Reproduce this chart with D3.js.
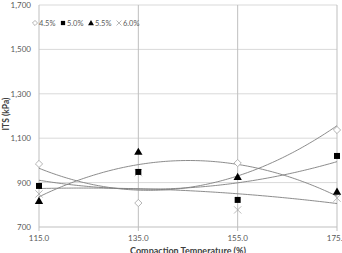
<!DOCTYPE html>
<html>
<head>
<meta charset="utf-8">
<script src="https://cdn.jsdelivr.net/npm/d3@7"></script>
<style>
  body { margin: 0; background: #fff; }
  svg { display: block; font-family: Lato, "Open Sans", sans-serif; }
</style>
</head>
<body>
<div id="chart"></div>
<script>
// compaction temperature categories and ITS values per bitumen content
const temps = [115, 135, 155, 175];
const seriesNames = ["4.5%", "5.0%", "5.5%", "6.0%"];
const its45 = [984, 808, 988, 1137];
const its50 = [885, 948, 822, 1020];
const its55 = [817, 1038, 925, 858];
const its60 = [849, 945, 777, 830];
const yTicks = [700, 900, 1100, 1300, 1500, 1700];

const width = 342, height = 253;
const margin = {top: 5, right: 5, bottom: 26, left: 39};

const series = [
  {name: seriesNames[0], values: its45, symbol: "diamond"},
  {name: seriesNames[1], values: its50, symbol: "square"},
  {name: seriesNames[2], values: its55, symbol: "triangle"},
  {name: seriesNames[3], values: its60, symbol: "x"}
];

const svg = d3.select("#chart").append("svg")
  .attr("width", width)
  .attr("height", height);

const x = d3.scaleLinear().domain([115, 175]).range([margin.left, width - margin.right]);
const y = d3.scaleLinear().domain([700, 1700]).range([height - margin.bottom, margin.top]);

// horizontal gridlines
svg.append("g")
  .selectAll("line")
  .data(yTicks.slice(1))
  .join("line")
  .attr("x1", x(115)).attr("x2", x(175))
  .attr("y1", d => y(d)).attr("y2", d => y(d))
  .attr("stroke", "#d9d9d9")
  .attr("stroke-width", 1);

// vertical gridlines (incl. y axis)
svg.append("g")
  .selectAll("line")
  .data(temps)
  .join("line")
  .attr("x1", d => x(d)).attr("x2", d => x(d))
  .attr("y1", y(1700)).attr("y2", y(700) + 4)
  .attr("stroke", "#bfbfbf")
  .attr("stroke-width", 1);

// x axis line
svg.append("line")
  .attr("x1", x(115)).attr("x2", x(175))
  .attr("y1", y(700)).attr("y2", y(700))
  .attr("stroke", "#bfbfbf");

// y tick labels
svg.append("g")
  .selectAll("text")
  .data(yTicks)
  .join("text")
  .attr("x", margin.left - 8)
  .attr("y", d => y(d) + 3)
  .attr("text-anchor", "end")
  .attr("font-size", 8)
  .attr("fill", "#595959")
  .text(d => d3.format(",")(d));

// x tick labels
svg.append("g")
  .selectAll("text")
  .data(temps)
  .join("text")
  .attr("x", d => x(d))
  .attr("y", y(700) + 14)
  .attr("text-anchor", "middle")
  .attr("font-size", 8)
  .attr("fill", "#595959")
  .text(d => d3.format(".1f")(d));

// axis titles
svg.append("text")
  .attr("x", 188)
  .attr("y", 254)
  .attr("text-anchor", "middle")
  .attr("font-size", 9)
  .attr("font-weight", "bold")
  .attr("fill", "#404040")
  .text("Compaction Temperature (%)");

svg.append("text")
  .attr("transform", "translate(9,114) rotate(-90)")
  .attr("text-anchor", "middle")
  .attr("font-size", 8.5)
  .attr("font-weight", "bold")
  .attr("fill", "#404040")
  .text("ITS (kPa)");

// least squares quadratic trend
function quadFit(xs, ys) {
  const m = d3.mean(xs);
  const t = xs.map(v => (v - m) / 10);
  let S = [0, 0, 0, 0, 0], T = [0, 0, 0];
  t.forEach((tv, i) => {
    for (let k = 0; k < 5; k++) S[k] += Math.pow(tv, k);
    for (let k = 0; k < 3; k++) T[k] += Math.pow(tv, k) * ys[i];
  });
  const A = [[S[0], S[1], S[2]], [S[1], S[2], S[3]], [S[2], S[3], S[4]]];
  const det = M => M[0][0] * (M[1][1] * M[2][2] - M[1][2] * M[2][1])
    - M[0][1] * (M[1][0] * M[2][2] - M[1][2] * M[2][0])
    + M[0][2] * (M[1][0] * M[2][1] - M[1][1] * M[2][0]);
  const D = det(A);
  const coef = [0, 1, 2].map(c => {
    const Mc = A.map((row, r) => row.map((v, j) => j == c ? T[r] : v));
    return det(Mc) / D;
  });
  return v => { const tv = (v - m) / 10; return coef[0] + coef[1] * tv + coef[2] * tv * tv; };
}

const line = d3.line()
  .x(d => x(d[0]))
  .y(d => y(d[1]));

const xs = d3.range(115, 175.01, 0.5);
series.forEach(s => {
  const f = quadFit(temps, s.values);
  svg.append("path")
    .datum(xs.map(v => [v, f(v)]))
    .attr("d", line)
    .attr("fill", "none")
    .attr("stroke", "#7f7f7f")
    .attr("stroke-width", 0.9);
});

// markers
function drawMarker(g, type, cx, cy, size) {
  if (type == "diamond") {
    g.append("path")
      .attr("d", d3.symbol(d3.symbolSquare, size * 26)())
      .attr("transform", `translate(${cx},${cy}) rotate(45)`)
      .attr("fill", "#fff")
      .attr("stroke", "#a6a6a6")
      .attr("stroke-width", 0.8);
  } else if (type == "square") {
    g.append("path")
      .attr("d", d3.symbol(d3.symbolSquare, size * 36)())
      .attr("transform", `translate(${cx},${cy})`)
      .attr("fill", "#000");
  } else if (type == "triangle") {
    g.append("path")
      .attr("d", d3.symbol(d3.symbolTriangle, size * 30)())
      .attr("transform", `translate(${cx},${cy + 0.5})`)
      .attr("fill", "#000");
  } else {
    g.append("path")
      .attr("d", d3.symbol(d3.symbolX, size * 36)())
      .attr("transform", `translate(${cx},${cy})`)
      .attr("fill", "none")
      .attr("stroke", "#a6a6a6")
      .attr("stroke-width", 0.8);
  }
}

// draw later series first so the square hides the 6.0% cross at 135
series.slice().reverse().forEach(s => {
  const g = svg.append("g");
  s.values.forEach((v, i) => drawMarker(g, s.symbol, x(temps[i]), y(v), 1));
});

// legend
const legend = svg.append("g");
series.forEach((s, i) => {
  const lx = 35 + i * 28;
  drawMarker(legend, s.symbol, lx, 23, 0.5);
  legend.append("text")
    .attr("x", lx + 4)
    .attr("y", 26)
    .attr("font-size", 7.5)
    .attr("fill", "#595959")
    .text(s.name);
});
</script>
</body>
</html>
